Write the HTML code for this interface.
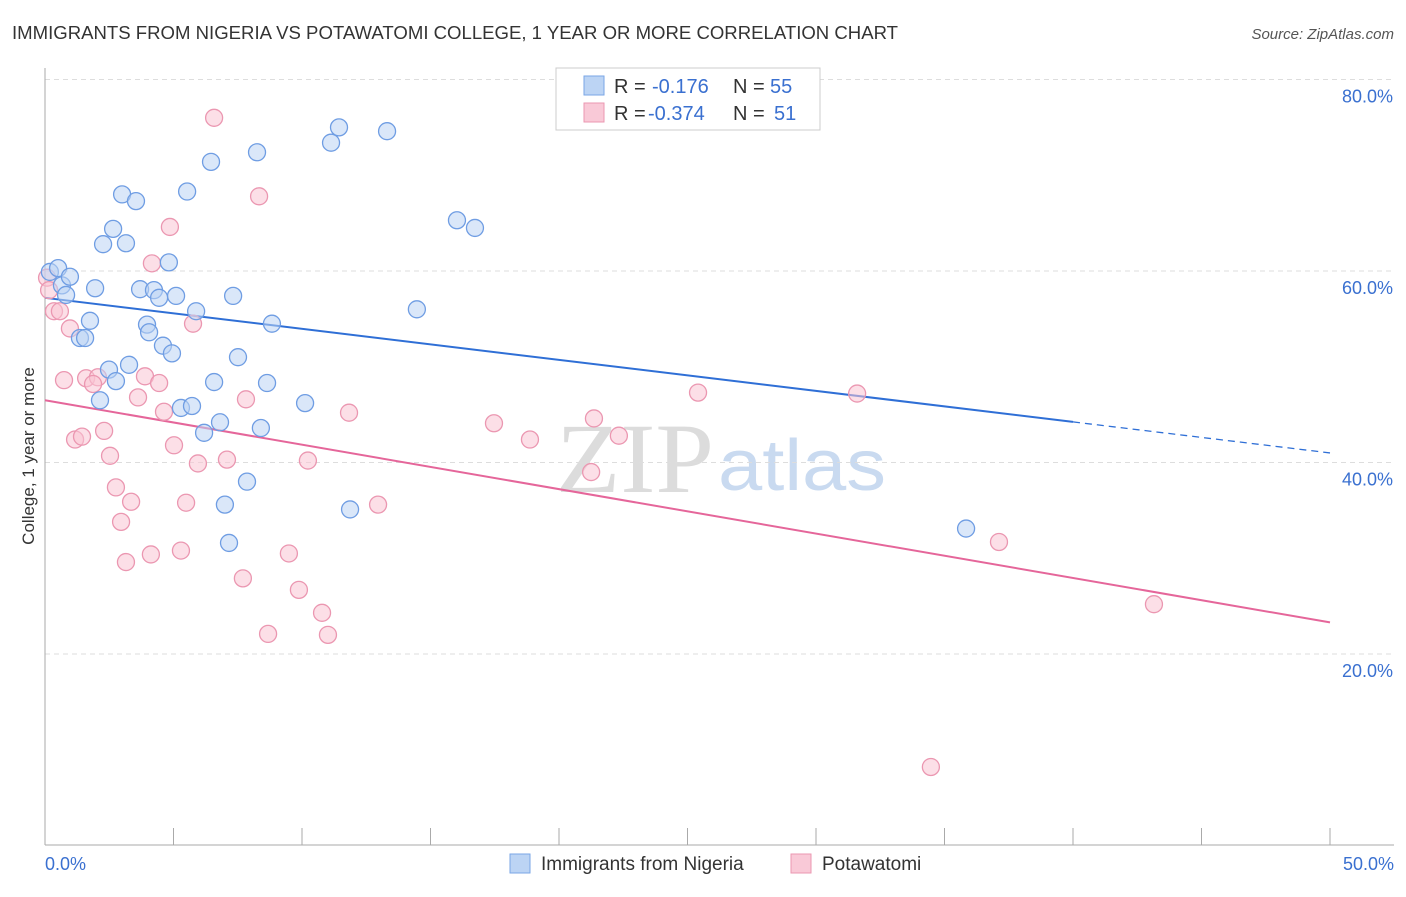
<!DOCTYPE html>
<html><head><meta charset="utf-8"><style>
body{margin:0;background:#fff;font-family:"Liberation Sans",sans-serif}
#wrap{position:relative;width:1406px;height:892px}
</style></head><body>
<div id="wrap">
<svg id="svg" width="1406" height="892" xmlns="http://www.w3.org/2000/svg">
<text x="12" y="39" font-size="18" fill="#333" textLength="886" lengthAdjust="spacingAndGlyphs">IMMIGRANTS FROM NIGERIA VS POTAWATOMI COLLEGE, 1 YEAR OR MORE CORRELATION CHART</text>
<text x="1394" y="39" font-size="15" fill="#555" text-anchor="end" font-style="italic">Source: ZipAtlas.com</text>
<text x="34" y="456" font-size="17" fill="#333" text-anchor="middle" transform="rotate(-90 34 456)">College, 1 year or more</text>
<text x="556" y="492" font-size="100" fill="#dcdcdc" textLength="158" lengthAdjust="spacingAndGlyphs" font-family="Liberation Serif,serif">ZIP</text>
<text x="718" y="490" font-size="72" fill="#c9daf0" textLength="168" lengthAdjust="spacingAndGlyphs">atlas</text>
<g id="grid"></g><g id="axes"></g><g id="lines"></g><g id="pts"></g>
<g>
<rect x="556" y="68" width="264" height="62" fill="#fff" stroke="#ccc"/>
<rect x="584" y="76" width="20" height="19" fill="#bcd4f4" stroke="#7aa6e6"/>
<rect x="584" y="103" width="20" height="19" fill="#f9c9d7" stroke="#eb97b1"/>
<text x="614" y="93" font-size="20" fill="#333">R = <tspan x="652" fill="#3a70d0">-0.176</tspan></text>
<text x="733" y="93" font-size="20" fill="#333">N = <tspan x="770" fill="#3a70d0">55</tspan></text>
<text x="614" y="120" font-size="20" fill="#333">R = <tspan x="648" fill="#3a70d0">-0.374</tspan></text>
<text x="733" y="120" font-size="20" fill="#333">N = <tspan x="774" fill="#3a70d0">51</tspan></text>
</g>
<g>
<rect x="510" y="854" width="20" height="19" fill="#bcd4f4" stroke="#7aa6e6"/>
<text x="541" y="870" font-size="19" fill="#333">Immigrants from Nigeria</text>
<rect x="791" y="854" width="20" height="19" fill="#f9c9d7" stroke="#eb97b1"/>
<text x="822" y="870" font-size="19" fill="#333">Potawatomi</text>
</g>
</svg></div>
<script>
const blueX=[0.19,0.51,0.66,0.97,0.82,1.95,1.75,1.36,1.56,2.26,2.65,3.15,3.0,3.54,3.7,4.24,4.44,5.1,3.97,4.05,4.59,4.94,4.82,5.53,6.46,8.25,11.13,11.44,13.31,5.88,7.32,8.83,7.51,3.27,2.49,2.76,2.14,5.29,5.72,6.58,8.64,10.12,6.19,6.81,8.4,7.86,7.0,7.16,11.87,14.47,16.03,16.73,35.84];
const blueY=[59.9,60.3,58.5,59.4,57.5,58.2,54.8,53.0,53.0,62.8,64.4,62.9,68.0,67.3,58.1,58.0,57.2,57.4,54.4,53.6,52.2,51.4,60.9,68.3,71.4,72.4,73.4,75.0,74.6,55.8,57.4,54.5,51.0,50.2,49.7,48.5,46.5,45.7,45.9,48.4,48.3,46.2,43.1,44.2,43.6,38.0,35.6,31.6,35.1,56.0,65.3,64.5,33.1];
const pinkX=[6.58,8.33,4.86,4.16,0.35,0.58,0.97,5.76,0.74,1.6,2.06,1.87,3.89,4.44,3.62,4.63,5.02,1.17,1.44,2.3,2.53,2.76,3.35,2.96,3.15,4.12,5.29,5.49,5.95,7.08,7.82,7.7,8.68,9.49,9.88,10.23,10.78,11.01,11.83,12.96,17.47,18.87,21.25,21.36,22.33,25.41,31.6,37.12,43.15,34.47,0.08,0.16];
const pinkY=[76.0,67.8,64.6,60.8,55.8,55.8,54.0,54.5,48.6,48.8,48.9,48.2,49.0,48.3,46.8,45.3,41.8,42.4,42.7,43.3,40.7,37.4,35.9,33.8,29.6,30.4,30.8,35.8,39.9,40.3,46.6,27.9,22.1,30.5,26.7,40.2,24.3,22.0,45.2,35.6,44.1,42.4,39.0,44.6,42.8,47.3,47.2,31.7,25.2,8.2,59.3,58.0];
const blueTrend=[57.2,41.0];   // y at x=0 and x=50
const pinkTrend=[46.5,23.3];
const yTicks=[20,40,60,80];
const xTicks=[0,5,10,15,20,25,30,35,40,45,50];
const NS="http://www.w3.org/2000/svg";
const sx=v=>45+v*25.7;
const sy=v=>271+(60-v)*9.575;
function mk(tag,attrs,parent){const e=document.createElementNS(NS,tag);for(const k in attrs)e.setAttribute(k,attrs[k]);document.getElementById(parent).appendChild(e);return e;}
yTicks.forEach(t=>{
 const l=mk('line',{x1:45,x2:1394,y1:sy(t),y2:sy(t),stroke:'#ddd','stroke-dasharray':'5,4'},'grid');
 
 
 const tx=mk('text',{x:1393,y:sy(t)+23,'font-size':18,fill:'#3a70d0','text-anchor':'end'},'grid');
 tx.textContent=t.toFixed(1)+'%';
 
 
});
const ax=mk('line',{x1:45,x2:1394,y1:845,y2:845,stroke:'#aaa'},'axes');


const ay=mk('line',{x1:45,x2:45,y1:68,y2:845,stroke:'#aaa'},'axes');


xTicks.forEach(t=>{
 const l=mk('line',{x1:sx(t),x2:sx(t),y1:828,y2:845,stroke:'#aaa'},'axes');
 
 
});
[[0,'0.0%','start',45],[50,'50.0%','end',1394]].forEach(a=>{
 const tx=mk('text',{x:a[3],y:870,'font-size':18,fill:'#3a70d0','text-anchor':a[2]},'axes');
 tx.textContent=a[1];
 
 
});
function pts(X,Y,fill,stroke,name){X.forEach((x,i)=>{
 const c=mk('circle',{cx:sx(x),cy:sy(Y[i]),r:8.5,fill:fill,'fill-opacity':0.55,stroke:stroke,'stroke-width':1.3},'pts');
 
 
});}
pts(pinkX,pinkY,'#f9c4d3','#eb97b1','potawatomi');
pts(blueX,blueY,'#bcd4f4','#6f9de3','nigeria');
const bAt=x=>blueTrend[0]+(blueTrend[1]-blueTrend[0])*x/50;
const b1=mk('line',{x1:sx(0),y1:sy(bAt(0)),x2:sx(40),y2:sy(bAt(40)),stroke:'#2f6fd6','stroke-width':2},'lines');


const b2=mk('line',{x1:sx(40),y1:sy(bAt(40)),x2:sx(50),y2:sy(bAt(50)),stroke:'#2f6fd6','stroke-width':1.3,'stroke-dasharray':'7,5'},'lines');


const p1=mk('line',{x1:sx(0),y1:sy(pinkTrend[0]),x2:sx(50),y2:sy(pinkTrend[1]),stroke:'#e5669a','stroke-width':2},'lines');


</script>
</body></html>
